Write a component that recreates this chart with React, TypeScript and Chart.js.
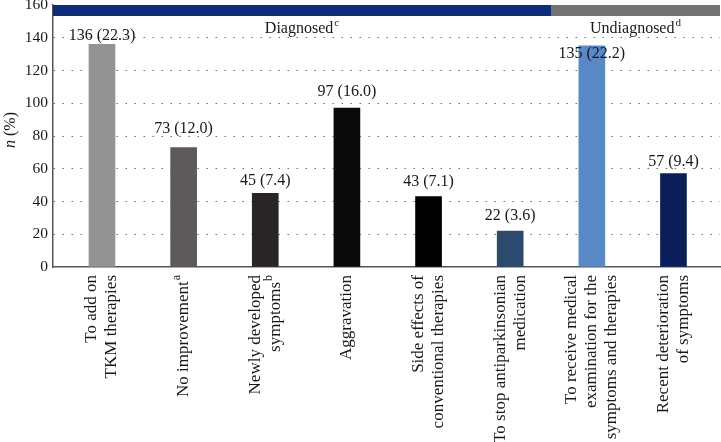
import React, { useEffect, useRef } from "react";
import { Chart, registerables } from "chart.js";

Chart.register(...registerables);

const categories: string[][] = [
  ["To add on", "TKM therapies"],
  ["No improvement^a"],
  ["Newly developed", "symptoms^b"],
  ["Aggravation"],
  ["Side effects of", "conventional therapies"],
  ["To stop antiparkinsonian", "medication"],
  ["To receive medical", "examination for the", "symptoms and therapies"],
  ["Recent deterioration", "of symptoms"],
];
const counts = [136, 73, 45, 97, 43, 22, 135, 57];
const percents = ["22.3", "12.0", "7.4", "16.0", "7.1", "3.6", "22.2", "9.4"];
const barColors = ["#939393", "#5e5a5b", "#292526", "#0a0a0a", "#000000", "#2c4a6d", "#5a89c7", "#0c1e5a"];
const groups = [
  { name: "Diagnosed", sup: "c", from: -0.6, to: 5.5, color: "#0b2d7b" },
  { name: "Undiagnosed", sup: "d", from: 5.5, to: 7.57, color: "#707274" },
];
const yTicks = [0, 20, 40, 60, 80, 100, 120, 140, 160];

const FONT = "'Liberation Serif', 'DejaVu Serif', serif";
const TEXT = "#1a1718";
const labelGaps = [4, 14, 8, 12, 11, 11, -12, 8];

function drawSupText(ctx: CanvasRenderingContext2D, main: string, sup: string, size: number, align: "center" | "right", x: number, y: number) {
  ctx.font = `${size}px ${FONT}`;
  const mw = ctx.measureText(main).width;
  ctx.font = `${Math.round(size * 0.7)}px ${FONT}`;
  const sw = sup ? ctx.measureText(sup).width + 1 : 0;
  const total = mw + sw;
  const start = align === "center" ? x - total / 2 : x - total;
  ctx.textAlign = "left";
  ctx.font = `${size}px ${FONT}`;
  ctx.fillText(main, start, y);
  if (sup) {
    ctx.font = `${Math.round(size * 0.7)}px ${FONT}`;
    ctx.fillText(sup, start + mw + 1, y - size * 0.38);
  }
}

function splitSup(s: string): [string, string] {
  const i = s.indexOf("^");
  if (i < 0) return [s, ""];
  return [s.slice(0, i), s.slice(i + 1)];
}

const customDraw = {
  id: "customDraw",
  beforeDatasetsDraw(chart: any) {
    const { ctx, chartArea, scales } = chart;
    const x = scales.x;
    ctx.save();
    groups.forEach((g) => {
      const x0 = Math.max(chartArea.left, x.getPixelForValue(g.from));
      const x1 = Math.min(chartArea.right, x.getPixelForValue(g.to));
      ctx.fillStyle = g.color;
      ctx.fillRect(x0, chartArea.top, x1 - x0, 11);
      ctx.fillStyle = TEXT;
      ctx.textBaseline = "alphabetic";
      drawSupText(ctx, g.name, g.sup, 16, "center", (x0 + x1) / 2, chartArea.top + 27.5);
    });
    ctx.restore();
  },
  afterDatasetsDraw(chart: any) {
    const { ctx, chartArea, scales } = chart;
    const meta = chart.getDatasetMeta(0);
    ctx.save();
    ctx.fillStyle = TEXT;
    ctx.textBaseline = "alphabetic";
    ctx.textAlign = "center";
    ctx.font = `16px ${FONT}`;
    meta.data.forEach((bar: any, i: number) => {
      ctx.fillText(`${counts[i]} (${percents[i]})`, bar.x, bar.y - labelGaps[i]);
    });

    // category labels (rotated)
    const lh = 20;
    const top = chartArea.bottom + 8;
    categories.forEach((lines, i) => {
      const px = scales.x.getPixelForValue(i);
      lines.forEach((line, j) => {
        const cx = px + (j - (lines.length - 1) / 2) * lh;
        ctx.save();
        ctx.translate(cx, top);
        ctx.rotate(-Math.PI / 2);
        ctx.textBaseline = "middle";
        const [main, sup] = splitSup(line);
        drawSupText(ctx, main, sup, 17, "right", 0, 0);
        ctx.restore();
      });
    });

    // y axis title: "n (%)" with italic n
    ctx.save();
    ctx.translate(15, (chartArea.top + chartArea.bottom) / 2 - 6);
    ctx.rotate(-Math.PI / 2);
    ctx.textBaseline = "alphabetic";
    ctx.textAlign = "left";
    ctx.font = `italic 16px ${FONT}`;
    const nW = ctx.measureText("n").width;
    ctx.font = `16px ${FONT}`;
    const restW = ctx.measureText(" (%)").width;
    const s = -(nW + restW) / 2;
    ctx.font = `italic 16px ${FONT}`;
    ctx.fillText("n", s, 0);
    ctx.font = `16px ${FONT}`;
    ctx.fillText(" (%)", s + nW, 0);
    ctx.restore();
    ctx.restore();
  },
};

export default function App() {
  const ref = useRef<HTMLCanvasElement>(null);
  useEffect(() => {
    document.body.style.margin = "0";
    const chart = new Chart(ref.current!, {
      type: "bar",
      data: {
        datasets: [
          {
            data: counts.map((v, i) => ({ x: i, y: v })),
            backgroundColor: barColors,
            barThickness: 26,
            borderWidth: 0,
          },
        ],
      },
      options: {
        animation: false,
        responsive: false,
        layout: { padding: { top: 5, right: 1, left: 0, bottom: 0 } },
        plugins: { legend: { display: false }, tooltip: { enabled: false } },
        scales: {
          x: {
            type: "linear",
            min: -0.6,
            max: 7.57,
            offset: false,
            grid: { display: false, drawTicks: false, offset: false },
            border: { display: true, color: "#555555", width: 1.5 },
            ticks: { display: false },
            afterFit: (s: any) => {
              s.height = 175;
              s.paddingLeft = 0;
              s.paddingRight = 0;
            },
          },
          y: {
            min: 0,
            max: 160,
            afterBuildTicks: (s: any) => {
              s.ticks = yTicks.map((v) => ({ value: v }));
            },
            grid: {
              color: (c: any) => (c.tick && (c.tick.value === 0 || c.tick.value === 160) ? "rgba(0,0,0,0)" : "#6f6f6f"),
              lineWidth: 1,
              drawTicks: false,
            },
            border: { display: true, color: "#555555", width: 1.5, dash: [1.5, 7.5] },
            ticks: {
              padding: 5,
              color: TEXT,
              font: { family: FONT, size: 15.5 },
            },
            afterFit: (s: any) => {
              s.width = 53;
              s.paddingTop = 0;
              s.paddingBottom = 0;
            },
          },
        },
      },
      plugins: [customDraw],
    });
    return () => chart.destroy();
  }, []);
  return (
    <div style={{ width: 721, height: 442 }}>
      <canvas ref={ref} width={721} height={442} />
    </div>
  );
}
